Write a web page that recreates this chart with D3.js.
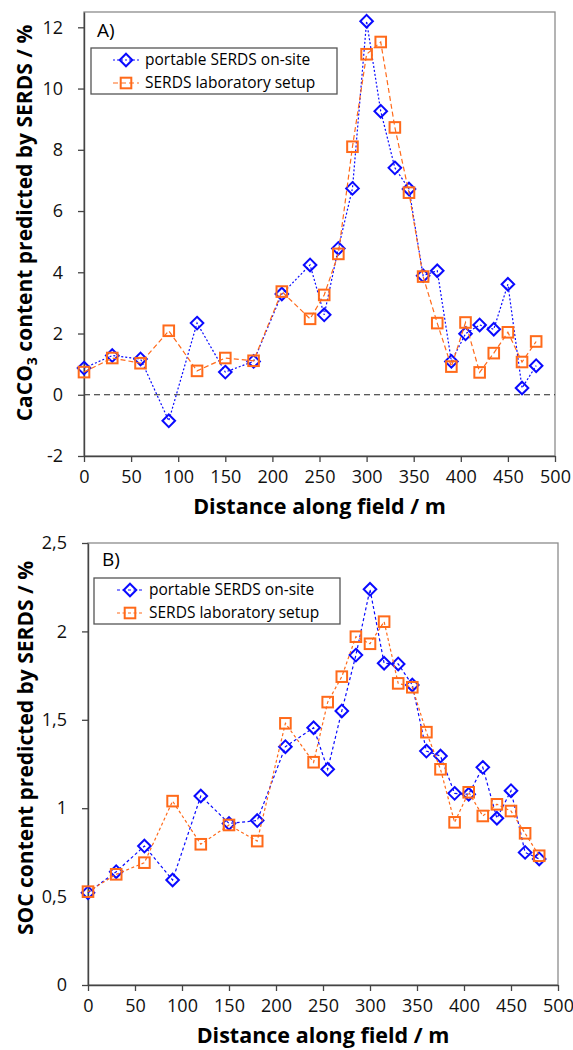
<!DOCTYPE html>
<html>
<head>
<meta charset="utf-8">
<script src="https://cdn.jsdelivr.net/npm/d3@7"></script>
<style>
  body { margin: 0; background: #fff; }
  svg { display: block; font-family: "Open Sans", sans-serif; }
</style>
</head>
<body>
<div id="chart"></div>
<script>
// sampling positions along the field (m)
const distances = [0, 30, 60, 90, 120, 150, 180, 210, 240, 255, 270, 285, 300, 315, 330, 345, 360, 375, 390, 405, 420, 435, 450, 465, 480];

// CaCO3 content (%)
const caco3Portable = [0.87, 1.28, 1.17, -0.85, 2.34, 0.74, 1.09, 3.29, 4.24, 2.61, 4.78, 6.74, 12.2, 9.26, 7.41, 6.72, 3.89, 4.05, 1.09, 1.99, 2.28, 2.14, 3.61, 0.22, 0.95];
const caco3Lab = [0.74, 1.2, 1.03, 2.09, 0.78, 1.2, 1.11, 3.37, 2.48, 3.26, 4.6, 8.1, 11.12, 11.52, 8.73, 6.6, 3.86, 2.34, 0.92, 2.36, 0.73, 1.36, 2.04, 1.07, 1.74];

// SOC content (%)
const socPortable = [0.522, 0.641, 0.786, 0.594, 1.069, 0.914, 0.93, 1.348, 1.455, 1.22, 1.55, 1.866, 2.238, 1.82, 1.816, 1.697, 1.323, 1.295, 1.084, 1.079, 1.231, 0.943, 1.099, 0.75, 0.713];
const socLab = [0.528, 0.626, 0.692, 1.04, 0.796, 0.905, 0.814, 1.48, 1.26, 1.6, 1.744, 1.97, 1.93, 2.055, 1.706, 1.684, 1.43, 1.22, 0.92, 1.09, 0.956, 1.022, 0.984, 0.858, 0.731];

const xTicks = [0, 50, 100, 150, 200, 250, 300, 350, 400, 450, 500];
const caco3Ticks = [-2, 0, 2, 4, 6, 8, 10, 12];
const socTicks = [0, 0.5, 1, 1.5, 2, 2.5];

const seriesNames = ["portable SERDS on-site", "SERDS laboratory setup"];
const xTitle = "Distance along field / m";

const blue = "#0a0aff";
const orange = "#ff6a1a";

const svg = d3.select("#chart")
              .append("svg")
              .attr("width", 573)
              .attr("height", 1050);

function diamond(sel, x, y) {
    sel.append("path")
       .attr("d", `M${x},${y - 6.3}L${x + 6.3},${y}L${x},${y + 6.3}L${x - 6.3},${y}Z`)
       .attr("fill", "none")
       .attr("stroke", blue)
       .attr("stroke-width", 2);
}

function square(sel, x, y) {
    sel.append("rect")
       .attr("x", x - 5.3).attr("y", y - 5.3)
       .attr("width", 10.6).attr("height", 10.6)
       .attr("fill", "none")
       .attr("stroke", orange)
       .attr("stroke-width", 2);
}

function drawPanel(p) {
    const x = d3.scaleLinear().domain([0, 500]).range([p.left, p.right]);
    const y = d3.scaleLinear().domain(p.yDomain).range([p.bottom, p.top]);
    const g = svg.append("g");

    // plot area frame
    g.append("rect")
     .attr("x", p.left).attr("y", p.top)
     .attr("width", p.right - p.left).attr("height", p.bottom - p.top)
     .attr("fill", "none")
     .attr("stroke", "#8c8c8c")
     .attr("stroke-width", 1.3);

    if (p.zeroLine) {
        g.append("line")
         .attr("x1", p.left).attr("x2", p.right)
         .attr("y1", y(0)).attr("y2", y(0))
         .attr("stroke", "#222")
         .attr("stroke-width", 1)
         .attr("stroke-dasharray", "6 4");
    }

    const xAxis = g.append("g")
                   .attr("transform", `translate(0,${p.bottom})`)
                   .call(d3.axisBottom(x).tickValues(xTicks).tickSize(6).tickSizeOuter(0).tickPadding(8));
    const yAxis = g.append("g")
                   .attr("transform", `translate(${p.left},0)`)
                   .call(d3.axisLeft(y).tickValues(p.yTicks).tickSize(6).tickSizeOuter(0).tickPadding(15)
                           .tickFormat(d => String(d).replace(".", ",")));
    [xAxis, yAxis].forEach(a => {
        a.select(".domain").attr("stroke", "#444").attr("stroke-width", 1.4);
        a.selectAll(".tick line").attr("stroke", "#444").attr("stroke-width", 1.3);
        a.selectAll(".tick text").attr("font-size", 18).attr("fill", "#111")
         .attr("font-family", "'Open Sans', sans-serif");
    });

    const line = d3.line().x(d => x(d[0])).y(d => y(d[1]));
    const blueData = distances.map((d, i) => [d, p.portable[i]]);
    const orangeData = distances.map((d, i) => [d, p.lab[i]]);

    g.append("path").datum(blueData)
     .attr("d", line).attr("fill", "none")
     .attr("stroke", blue).attr("stroke-width", 1.2)
     .attr("stroke-dasharray", p.blueDash);
    blueData.forEach(d => diamond(g, x(d[0]), y(d[1])));

    g.append("path").datum(orangeData)
     .attr("d", line).attr("fill", "none")
     .attr("stroke", orange).attr("stroke-width", 1.2)
     .attr("stroke-dasharray", p.orangeDash);
    orangeData.forEach(d => square(g, x(d[0]), y(d[1])));

    // panel letter
    g.append("text")
     .attr("x", p.letterX).attr("y", p.letterY)
     .attr("font-size", 19)
     .text(p.letter);

    // legend
    const lg = g.append("g");
    lg.append("rect")
      .attr("x", p.legend.x).attr("y", p.legend.y)
      .attr("width", 246).attr("height", 46)
      .attr("fill", "#fff")
      .attr("stroke", "#555").attr("stroke-width", 1.3);
    seriesNames.forEach((name, i) => {
        const cy = p.legend.y + 12 + i * 23;
        const mx = p.legend.markX;
        lg.append("line")
          .attr("x1", mx - 13).attr("x2", mx + 13)
          .attr("y1", cy).attr("y2", cy)
          .attr("stroke", i === 0 ? blue : orange)
          .attr("stroke-width", 1.2)
          .attr("stroke-dasharray", i === 0 ? p.blueDash : p.orangeDash);
        if (i === 0) diamond(lg, mx, cy); else square(lg, mx, cy);
        lg.append("text")
          .attr("x", p.legend.textX).attr("y", cy)
          .attr("dy", "0.35em")
          .attr("font-size", 15.5)
          .text(name);
    });

    // axis titles
    g.append("text")
     .attr("x", (p.left + p.right) / 2)
     .attr("y", p.xTitleY)
     .attr("text-anchor", "middle")
     .attr("font-size", 21.5).attr("font-weight", "bold")
     .text(xTitle);

    const yt = g.append("text")
                .attr("transform", `translate(${p.yTitleX},${p.yTitleY}) rotate(-90)`)
                .attr("text-anchor", "middle")
                .attr("font-size", 21).attr("font-weight", "bold");
    p.yTitle(yt);
}

drawPanel({
    top: 12, bottom: 456, left: 84, right: 555,
    yDomain: [-2, 12.5], yTicks: caco3Ticks,
    portable: caco3Portable, lab: caco3Lab,
    blueDash: "2 2", orangeDash: "5 3",
    zeroLine: true,
    letter: "A)", letterX: 97, letterY: 37,
    legend: {x: 91, y: 48, markX: 126, textX: 145},
    xTitleY: 514,
    yTitleX: 32, yTitleY: 223,
    yTitle: t => {
        t.append("tspan").text("CaCO");
        t.append("tspan").attr("font-size", 14).attr("dy", 5).text("3");
        t.append("tspan").attr("dy", -5).text(" content predicted by SERDS / %");
    }
});

drawPanel({
    top: 543, bottom: 985, left: 88, right: 558,
    yDomain: [0, 2.5], yTicks: socTicks,
    portable: socPortable, lab: socLab,
    blueDash: "3 2.5", orangeDash: "3 2.5",
    zeroLine: false,
    letter: "B)", letterX: 102, letterY: 566,
    legend: {x: 94, y: 578, markX: 130, textX: 149},
    xTitleY: 1043,
    yTitleX: 33, yTitleY: 748,
    yTitle: t => t.text("SOC content predicted by SERDS / %")
});
</script>
</body>
</html>
